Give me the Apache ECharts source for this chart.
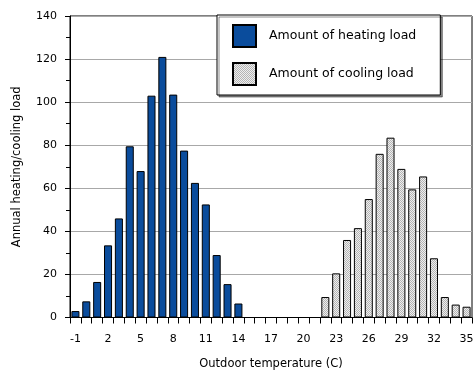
<!DOCTYPE html>
<html><head><meta charset="utf-8">
<script src="https://cdn.jsdelivr.net/npm/echarts@6/dist/echarts.min.js"></script>
<style>html,body{margin:0;padding:0;background:#fff}#c{width:474px;height:371px}</style>
</head><body><div id="c"></div>
<script>
var temperatures = [-1,0,1,2,3,4,5,6,7,8,9,10,11,12,13,14,15,16,17,18,19,20,21,22,23,24,25,26,27,28,29,30,31,32,33,34,35];
var heatingLoad = [3,7.5,16.5,33.5,46,79.5,68,103,121,103.5,77.5,62.5,52.5,29,15.5,6.5,null,null,null,null,null,null,null,null,null,null,null,null,null,null,null,null,null,null,null,null,null];
var coolingLoad = [null,null,null,null,null,null,null,null,null,null,null,null,null,null,null,null,null,null,null,null,null,null,null,9.5,20.5,36,41.5,55,76,83.5,69,59.5,65.5,27.5,9.5,6,5];

var pc = document.createElement('canvas');
pc.width = 2; pc.height = 2;
var g = pc.getContext('2d');
g.fillStyle = '#eeeeee'; g.fillRect(0,0,2,2);
g.fillStyle = '#b4b4b4'; g.fillRect(0,0,1,1); g.fillRect(1,1,1,1);
var pattern = {image: pc, repeat: 'repeat'};

var FONT = 'DejaVu Sans';
var chart = echarts.init(document.getElementById('c'), null, {renderer:'canvas'});
chart.setOption({
  animation: false,
  textStyle: {fontFamily: FONT, color: '#000'},
  grid: {left: 70, right: 2, top: 16, bottom: 53.5, show: true, borderColor: '#000', borderWidth: 1,
         containLabel: false, outerBoundsMode: 'none'},
  legend: {
    orient: 'vertical', left: 217, top: 15,
    icon: 'rect',
    itemWidth: 23, itemHeight: 22, itemGap: 14,
    padding: [9, 24, 9, 15],
    backgroundColor: '#fff', borderColor: '#000', borderWidth: 1,
    shadowColor: 'rgba(0,0,0,0.45)', shadowOffsetX: 2, shadowOffsetY: 2, shadowBlur: 0,
    textStyle: {fontFamily: FONT, fontSize: 12.5, color: '#000', padding: [0,0,0,8]},
    data: ['Amount of heating load', 'Amount of cooling load']
  },
  xAxis: {
    type: 'category', data: temperatures,
    name: 'Outdoor temperature (C)', nameLocation: 'middle', nameGap: 41,
    nameTextStyle: {fontFamily: FONT, fontSize: 11.5, color: '#000'},
    axisLine: {lineStyle: {color: '#000', width: 1}},
    axisTick: {show: true, interval: 0, length: 6, lineStyle: {color: '#000'}},
    axisLabel: {interval: 2, fontFamily: FONT, fontSize: 11, color: '#000', margin: 16},
    splitLine: {show: false}
  },
  yAxis: {
    type: 'value', min: 0, max: 140, interval: 20,
    name: 'Annual heating/cooling load', nameLocation: 'middle', nameGap: 47,
    nameTextStyle: {fontFamily: FONT, fontSize: 11.5, color: '#000'},
    axisLine: {show: true, lineStyle: {color: '#000', width: 1}},
    axisTick: {show: true, length: 5, lineStyle: {color: '#000'}},
    minorTick: {show: true, splitNumber: 2, length: 4, lineStyle: {color: '#000'}},
    axisLabel: {fontFamily: FONT, fontSize: 11, color: '#000', margin: 13},
    splitLine: {show: true, lineStyle: {color: '#a8a8a8', width: 1}}
  },
  series: [
    {name: 'Amount of heating load', type: 'bar', data: heatingLoad, barWidth: '74%', barGap: '-100%',
     itemStyle: {color: '#0a4c9c', borderColor: '#000', borderWidth: 1}},
    {name: 'Amount of cooling load', type: 'bar', data: coolingLoad, barWidth: '74%', barGap: '-100%',
     itemStyle: {color: pattern, borderColor: '#000', borderWidth: 1}}
  ]
});
</script></body></html>
